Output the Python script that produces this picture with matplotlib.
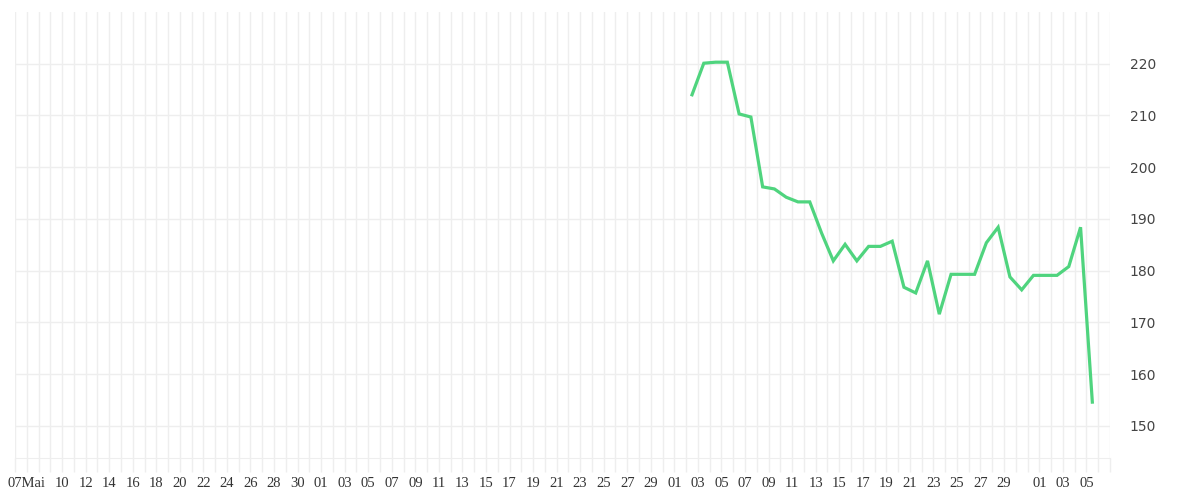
import matplotlib
matplotlib.use("Agg")
import matplotlib.pyplot as plt
import matplotlib.dates as mdates
import matplotlib.transforms as mtransforms
import pandas as pd

# values, one point per day (2 Jul - 5 Aug)
start_date = "2024-07-02"
values = [214.0, 220.1, 220.3, 220.3, 210.3, 209.7, 196.2, 195.8, 194.2, 193.3,
          193.3, 187.3, 181.9, 185.1, 181.9, 184.7, 184.7, 185.7, 176.8, 175.7,
          181.9, 171.6, 179.3, 179.3, 179.3, 185.4, 188.4, 178.8, 176.3, 179.1,
          179.1, 179.1, 180.8, 188.4, 154.6]

# axis range and tick labels
axis_start = "2024-05-06"
axis_end = "2024-08-07"
label_dates = (["2024-05-07"] + [f"2024-05-{d:02d}" for d in range(10, 31, 2)]
               + [f"2024-06-{d:02d}" for d in range(1, 30, 2)]
               + [f"2024-07-{d:02d}" for d in range(1, 30, 2)]
               + ["2024-08-01", "2024-08-03", "2024-08-05"])
y_ticks = [150, 160, 170, 180, 190, 200, 210, 220]

dates = pd.date_range(start_date, periods=len(values), freq="D") + pd.Timedelta(hours=12)
labels = pd.to_datetime(label_dates)
label_text = ["07Mai"] + [d.strftime("%d") for d in labels[1:]]

grid_col = "#eeeeee"

fig = plt.figure(figsize=(12, 5), dpi=100)
ax = fig.add_axes([0.0125, 0.084, 0.9125, 0.892])

ax.plot(dates, values, color="#4fd47e", linewidth=2.3, solid_joinstyle="miter")

ax.set_xlim(pd.Timestamp(axis_start), pd.Timestamp(axis_end))
ax.set_ylim(143.8, 230)

# daily vertical grid + tick marks
ax.xaxis.set_minor_locator(mdates.DayLocator())
ax.set_xticks(labels)
ax.set_xticklabels(label_text, fontsize=10.5, family="Liberation Serif", color="#333333")
ax.tick_params(axis="x", which="both", length=10, width=1, color=grid_col, pad=4)
ax.grid(True, axis="x", which="both", color=grid_col, linewidth=1)

ax.yaxis.tick_right()
ax.set_yticks(y_ticks)
ax.set_yticklabels([str(v) for v in y_ticks], fontsize=10, color="#444444")
ax.tick_params(axis="y", which="both", length=0)
# push the right-hand labels out a bit
shift = mtransforms.ScaledTranslation(15 / 100, 0, fig.dpi_scale_trans)
for tick in ax.yaxis.get_major_ticks():
    tick.label2.set_transform(tick.label2.get_transform() + shift)
ax.grid(True, axis="y", color=grid_col, linewidth=1)
ax.set_axisbelow(True)

for side in ["top", "left", "right"]:
    ax.spines[side].set_visible(False)
ax.spines["bottom"].set_color(grid_col)

fig.savefig("out.png", dpi=100)
